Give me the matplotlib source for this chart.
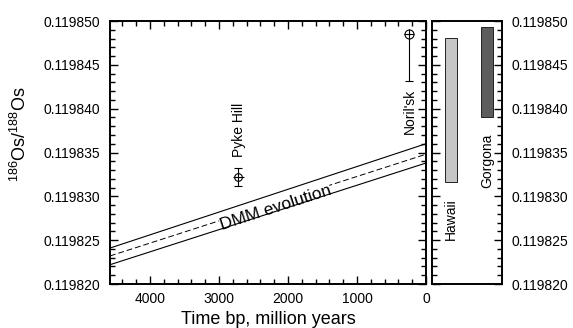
import matplotlib
matplotlib.use("Agg")
import matplotlib.pyplot as plt
from matplotlib.ticker import FixedLocator, MultipleLocator, FormatStrFormatter

plt.rcParams['font.family'] = ['Liberation Sans', 'DejaVu Sans']
plt.rcParams['mathtext.fontset'] = 'custom'
plt.rcParams['mathtext.rm'] = 'Liberation Sans'
plt.rcParams['mathtext.default'] = 'regular'

# ---- data ----
dmm_age = [4580, 0]
dmm_mid = [0.1198232, 0.1198348]
dmm_upper = [0.1198241, 0.1198360]
dmm_lower = [0.1198222, 0.1198338]

pyke_age = [2720]
pyke_val = [0.1198322]
pyke_yerr = [0.0000010]
pyke_xerr = [80]

norilsk_age = [250]
norilsk_val = [0.1198485]
norilsk_yerr_low = [0.0000053]
norilsk_yerr_up = [0.0]

hot_names = ['Hawaii', 'Gorgona']
hot_pos = [0.27, 0.786]
hot_low = [0.1198316, 0.1198390]
hot_high = [0.1198481, 0.1198493]
hot_colors = ['#c6c6c6', '#5c5c5c']

yticks = [0.119820, 0.119825, 0.119830, 0.119835, 0.119840, 0.119845, 0.119850]
xticks = [4000, 3000, 2000, 1000, 0]

W, H = 573, 328
fig = plt.figure(figsize=(W / 100, H / 100), dpi=100)
ax = fig.add_axes([110 / W, 1 - 284 / H, (426 - 110) / W, (284 - 21) / H])
ax2 = fig.add_axes([432 / W, 1 - 284 / H, (502 - 432) / W, (284 - 21) / H])

ylim = (0.119820, 0.119850)

# DMM evolution band
ax.plot(dmm_age, dmm_upper, color='black', lw=0.8, zorder=3)
ax.plot(dmm_age, dmm_lower, color='black', lw=0.8, zorder=3)
ax.plot(dmm_age, dmm_mid, color='black', lw=0.7, ls=(0, (6, 3)), zorder=1)
ax.text(2180, 0.1198287, 'DMM evolution', rotation=18, rotation_mode='anchor',
        ha='center', va='center', fontsize=12.5, zorder=2,
        bbox=dict(facecolor='white', edgecolor='none', pad=0))

# Pyke Hill
ax.errorbar(pyke_age, pyke_val, yerr=pyke_yerr, fmt='none',
            ecolor='black', elinewidth=0.8, capsize=3, capthick=0.8, zorder=4)
ax.errorbar(pyke_age, pyke_val, xerr=pyke_xerr, fmt='none',
            ecolor='black', elinewidth=0.8, capsize=0, zorder=4)
ax.plot(pyke_age, pyke_val, marker='o', ms=5.5, mfc='white', mec='black', mew=0.8,
        ls='none', zorder=5)
ax.plot(pyke_age, pyke_val, marker='+', ms=5.5, mec='black', mew=0.8, ls='none', zorder=6)
ax.annotate('Pyke Hill', xy=(pyke_age[0], pyke_val[0] + pyke_yerr[0]),
            xytext=(1, 11), textcoords='offset pixels', rotation=90,
            ha='center', va='bottom', fontsize=10)

# Noril'sk
ax.errorbar(norilsk_age, norilsk_val, yerr=[norilsk_yerr_low, norilsk_yerr_up], fmt='none',
            ecolor='black', elinewidth=0.8, capsize=3, capthick=0.8, zorder=4)
ax.plot(norilsk_age, norilsk_val, marker='o', ms=6.5, mfc='white', mec='black', mew=0.8,
        ls='none', zorder=5)
ax.plot(norilsk_age, norilsk_val, marker='+', ms=6.5, mec='black', mew=0.8, ls='none', zorder=6)
ax.annotate("Noril'sk", xy=(norilsk_age[0], norilsk_val[0] - norilsk_yerr_low[0]),
            xytext=(1, -8), textcoords='offset pixels', rotation=90,
            ha='center', va='top', fontsize=10)

ax.set_xlim(4580, 0)
ax.set_ylim(*ylim)
ax.xaxis.set_major_locator(FixedLocator(xticks))
ax.xaxis.set_minor_locator(MultipleLocator(200))
ax.yaxis.set_major_locator(FixedLocator(yticks))
ax.yaxis.set_minor_locator(MultipleLocator(0.000001))
ax.yaxis.set_major_formatter(FormatStrFormatter('%.6f'))
ax.tick_params(which='both', direction='in', top=True, right=True, labelsize=10, width=1.0)
ax.tick_params(which='major', length=6)
ax.tick_params(which='minor', length=3.5)
ax.tick_params(axis='y', pad=7)
ax.tick_params(axis='x', pad=6)
ax.set_xlabel('Time bp, million years', fontsize=13, labelpad=3)
for s in ax.spines.values():
    s.set_linewidth(1.4)

fig.text(20 / W, 1 - 134 / H, r'$^{186}$Os/$^{188}$Os', rotation=90, ha='center', va='center',
         fontsize=13)

# Hotspot panel
for name, pos, lo, hi, c in zip(hot_names, hot_pos, hot_low, hot_high, hot_colors):
    ax2.bar(pos, hi - lo, bottom=lo, width=0.167, color=c, edgecolor='#222222', linewidth=0.7)
    ax2.annotate(name, xy=(pos, lo), xytext=(0, -16), textcoords='offset pixels',
                 rotation=90, ha='center', va='top', fontsize=10)
ax2.set_xlim(0, 1)
ax2.set_ylim(*ylim)
ax2.set_xticks([])
ax2.yaxis.set_major_locator(FixedLocator(yticks))
ax2.yaxis.set_minor_locator(MultipleLocator(0.000001))
ax2.yaxis.set_major_formatter(FormatStrFormatter('%.6f'))
ax2.tick_params(axis='y', which='both', direction='in', left=True, right=True,
                labelleft=False, labelright=True, labelsize=10, width=1.0, pad=7)
ax2.tick_params(axis='y', which='major', length=6)
ax2.tick_params(axis='y', which='minor', length=3.5)
for s in ax2.spines.values():
    s.set_linewidth(1.4)

fig.savefig('out.png', dpi=100)
